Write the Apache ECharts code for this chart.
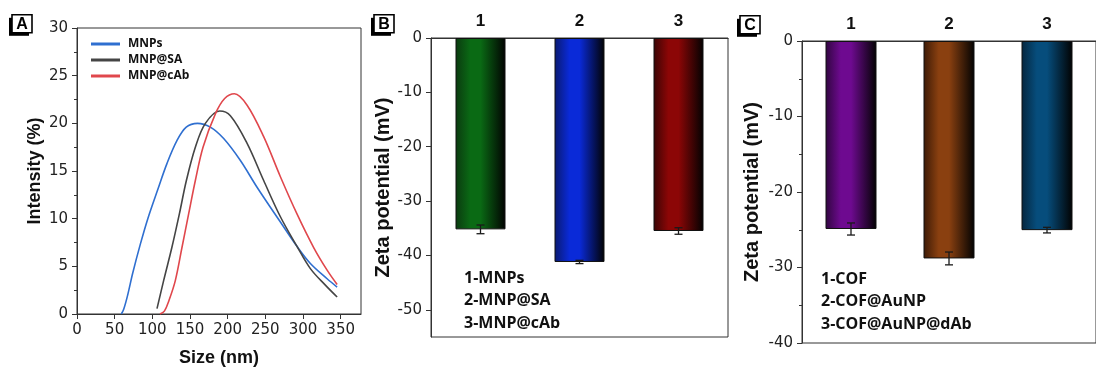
<!DOCTYPE html>
<html><head><meta charset="utf-8">
<script src="https://cdn.jsdelivr.net/npm/echarts@6/dist/echarts.min.js"></script>
<style>html,body{margin:0;padding:0;background:#fff}#c{width:1096px;height:374px}</style>
</head><body><div id="c"></div>
<script>
// ---------- Panel A data ----------
const sizeTicks = [0, 50, 100, 150, 200, 250, 300, 350];
const seriesNamesA = ['MNPs', 'MNP@SA', 'MNP@cAb'];
const mnpsX = [58.8, 62, 67, 74, 84, 94, 107, 119.5, 132.8, 145, 160, 177, 194.7, 216.9, 239, 270, 292, 309.8, 332, 345.3];
const mnpsY = [0, 0.5, 1.9, 4.3, 7.3, 10.0, 13.0, 15.8, 18.2, 19.6, 20.0, 19.6, 18.4, 16.1, 13.3, 9.65, 7.1, 5.3, 3.7, 2.83];
const mnpSaX = [106.2, 115, 126, 135.9, 145.2, 157.1, 170.4, 189.4, 203.6, 225.8, 247.8, 270, 292, 309.8, 330, 345.3];
const mnpSaY = [0.57, 3.5, 7.0, 10.5, 14.0, 17.5, 20.0, 21.3, 20.8, 17.9, 14.0, 10.2, 7.1, 4.76, 3.0, 1.78];
const mnpCabX = [110, 116, 122, 130.5, 139.4, 148.2, 157.1, 167.3, 183.7, 196, 209, 225.8, 247.8, 270, 292, 314, 332, 345.3];
const mnpCabY = [0, 0.3, 1.4, 3.5, 7.0, 10.5, 14.0, 17.5, 21.0, 22.6, 23.1, 21.9, 18.6, 14.4, 10.5, 7.0, 4.6, 3.1];

// ---------- Panel B data ----------
const catsB = ['1', '2', '3'];
const zetaB = [-35.2, -41.2, -35.5];
const errB = [0.8, 0.3, 0.6];
const legendB = ['1-MNPs', '2-MNP@SA', '3-MNP@cAb'];
const ticksB = [0, -10, -20, -30, -40, -50];

// ---------- Panel C data ----------
const catsC = ['1', '2', '3'];
const zetaC = [-24.9, -28.8, -25.05];
const errC = [0.8, 0.85, 0.37];
const legendC = ['1-COF', '2-COF@AuNP', '3-COF@AuNP@dAb'];

// ---------- styles ----------
const lineColorsA = ['#2f6fd0', '#454545', '#e0474c'];
const barColorsB = [['#0b3a10', '#0a6a14'], ['#0a1a70', '#0a2ad8'], ['#3a0505', '#8c0606']];
const barColorsC = [['#30063f', '#6e0a90'], ['#3c1a06', '#8a4010'], ['#05263e', '#064d7c']];

const chart = echarts.init(document.getElementById('c'), null, {renderer: 'canvas'});

function zip(xs, ys) { return xs.map((x, i) => [x, ys[i]]); }
function grad(c) {
  return new echarts.graphic.LinearGradient(0, 0, 1, 0, [
    {offset: 0, color: c[0]}, {offset: 0.3, color: c[1]}, {offset: 0.5, color: c[1]}, {offset: 1, color: '#020202'}
  ]);
}
function barData(vals, cols) {
  return vals.map((v, i) => ({value: v, itemStyle: {color: grad(cols[i])}}));
}
function errData(vals, errs) { return vals.map((v, i) => [i, v, errs[i]]); }
function errRender(params, api) {
  const x = api.value(0), v = api.value(1), e = api.value(2);
  const hi = api.coord([x, v + e]);
  const lo = api.coord([x, v - e]);
  const w = 4;
  const st = {stroke: '#1a1a1a', lineWidth: 1.3};
  return {type: 'group', children: [
    {type: 'line', shape: {x1: hi[0], y1: hi[1], x2: lo[0], y2: lo[1]}, style: st},
    {type: 'line', shape: {x1: hi[0] - w, y1: hi[1], x2: hi[0] + w, y2: hi[1]}, style: st},
    {type: 'line', shape: {x1: lo[0] - w, y1: lo[1], x2: lo[0] + w, y2: lo[1]}, style: st}
  ]};
}

const tickFont = {fontFamily: 'DejaVu Sans', fontSize: 15, color: '#222'};
const titleFont = {fontFamily: 'Liberation Sans', fontWeight: 'bold', color: '#111'};
const axisLineSt = {lineStyle: {color: '#333', width: 1}};

function panelLabel(letter, x, y) {
  return {type: 'group', left: x, top: y, children: [
    {type: 'rect', shape: {x: 0, y: 3, width: 20, height: 18}, style: {fill: '#000'}},
    {type: 'rect', shape: {x: 3, y: 0, width: 20, height: 18}, style: {fill: '#fff', stroke: '#000', lineWidth: 1.6}},
    {type: 'text', x: 13, y: 9.5, style: {text: letter, fill: '#000', font: 'bold 16px "Liberation Sans"', textAlign: 'center', textVerticalAlign: 'middle'}}
  ]};
}
function legendText(lines, x, ys) {
  return lines.map((t, i) => ({type: 'text', left: x, top: ys[i] - 11,
    style: {text: t, fill: '#111', font: 'bold 16px "Open Sans"'}}));
}

const option = {
  backgroundColor: '#fff',
  animation: false,
  grid: [
    {left: 77, top: 28, width: 284, height: 286, show: true, borderColor: '#333', borderWidth: 1},
    {left: 431, top: 38, width: 297, height: 299, show: true, borderColor: '#333', borderWidth: 1},
    {left: 802, top: 41, width: 303, height: 302, show: true, borderColor: '#333', borderWidth: 1}
  ],
  legend: {
    data: seriesNamesA, orient: 'vertical', left: 86, top: 31, icon: 'rect', itemWidth: 29, itemHeight: 3, itemGap: 0,
    textStyle: {fontFamily: 'Open Sans', fontWeight: 'bold', fontSize: 12, color: '#111', padding: [0, 0, 0, 3], lineHeight: 16}
  },
  xAxis: [
    {gridIndex: 0, type: 'value', min: 0, max: 377, name: 'Size (nm)', nameLocation: 'middle', nameGap: 35,
      nameTextStyle: Object.assign({fontSize: 18}, titleFont),
      axisLine: axisLineSt, splitLine: {show: false},
      axisTick: {inside: false, length: 5, customValues: sizeTicks, lineStyle: {color: '#333'}},
      axisLabel: Object.assign({margin: 9, customValues: sizeTicks}, tickFont)},
    {gridIndex: 1, type: 'category', data: catsB, position: 'top', boundaryGap: true,
      axisLine: axisLineSt, axisTick: {alignWithLabel: true, length: 5, lineStyle: {color: '#333'}},
      axisLabel: {margin: 8, fontFamily: 'Liberation Sans', fontWeight: 'bold', fontSize: 17, color: '#111'}},
    {gridIndex: 2, type: 'category', data: catsC, position: 'top', boundaryGap: true,
      axisLine: axisLineSt, axisTick: {alignWithLabel: true, length: 5, lineStyle: {color: '#333'}},
      axisLabel: {margin: 8, fontFamily: 'Liberation Sans', fontWeight: 'bold', fontSize: 17, color: '#111'}}
  ],
  yAxis: [
    {gridIndex: 0, type: 'value', min: 0, max: 30, interval: 5, name: 'Intensity (%)', nameLocation: 'middle', nameGap: 33,
      nameTextStyle: Object.assign({fontSize: 18}, titleFont),
      axisLine: {show: true, lineStyle: {color: '#333'}}, splitLine: {show: false},
      axisTick: {show: true, length: 5, lineStyle: {color: '#333'}},
      minorTick: {show: true, splitNumber: 2, length: 3, lineStyle: {color: '#333'}},
      axisLabel: Object.assign({margin: 9}, tickFont)},
    {gridIndex: 1, type: 'value', min: -55, max: 0, name: 'Zeta potential (mV)', nameLocation: 'middle', nameGap: 38,
      nameTextStyle: Object.assign({fontSize: 20}, titleFont),
      axisLine: {show: true, lineStyle: {color: '#333'}}, splitLine: {show: false},
      axisTick: {show: true, length: 5, customValues: ticksB, lineStyle: {color: '#333'}},
      axisLabel: Object.assign({margin: 9, customValues: ticksB}, tickFont)},
    {gridIndex: 2, type: 'value', min: -40, max: 0, interval: 10, name: 'Zeta potential (mV)', nameLocation: 'middle', nameGap: 40,
      nameTextStyle: Object.assign({fontSize: 20}, titleFont),
      axisLine: {show: true, lineStyle: {color: '#333'}}, splitLine: {show: false},
      axisTick: {show: true, length: 5, lineStyle: {color: '#333'}},
      minorTick: {show: true, splitNumber: 2, length: 3, lineStyle: {color: '#333'}},
      axisLabel: Object.assign({margin: 9}, tickFont)}
  ],
  series: [
    {name: seriesNamesA[0], type: 'line', xAxisIndex: 0, yAxisIndex: 0, data: zip(mnpsX, mnpsY), smooth: 0.35, symbol: 'none', lineStyle: {color: lineColorsA[0], width: 1.6}, itemStyle: {color: lineColorsA[0]}},
    {name: seriesNamesA[1], type: 'line', xAxisIndex: 0, yAxisIndex: 0, data: zip(mnpSaX, mnpSaY), smooth: 0.35, symbol: 'none', lineStyle: {color: lineColorsA[1], width: 1.6}, itemStyle: {color: lineColorsA[1]}},
    {name: seriesNamesA[2], type: 'line', xAxisIndex: 0, yAxisIndex: 0, data: zip(mnpCabX, mnpCabY), smooth: 0.35, symbol: 'none', lineStyle: {color: lineColorsA[2], width: 1.6}, itemStyle: {color: lineColorsA[2]}},
    {type: 'bar', xAxisIndex: 1, yAxisIndex: 1, data: barData(zetaB, barColorsB), barWidth: 50, itemStyle: {borderColor: '#111', borderWidth: 1}},
    {type: 'custom', xAxisIndex: 1, yAxisIndex: 1, data: errData(zetaB, errB), renderItem: errRender, encode: {x: 0, y: 1}, z: 5},
    {type: 'bar', xAxisIndex: 2, yAxisIndex: 2, data: barData(zetaC, barColorsC), barWidth: 51, itemStyle: {borderColor: '#111', borderWidth: 1}},
    {type: 'custom', xAxisIndex: 2, yAxisIndex: 2, data: errData(zetaC, errC), renderItem: errRender, encode: {x: 0, y: 1}, z: 5}
  ],
  graphic: [
    panelLabel('A', 9, 14),
    panelLabel('B', 371, 14),
    panelLabel('C', 737, 15)
  ].concat(legendText(legendB, 464, [281, 303.5, 326]))
   .concat(legendText(legendC, 821, [282, 304.5, 327]))
};
chart.setOption(option);
</script></body></html>
